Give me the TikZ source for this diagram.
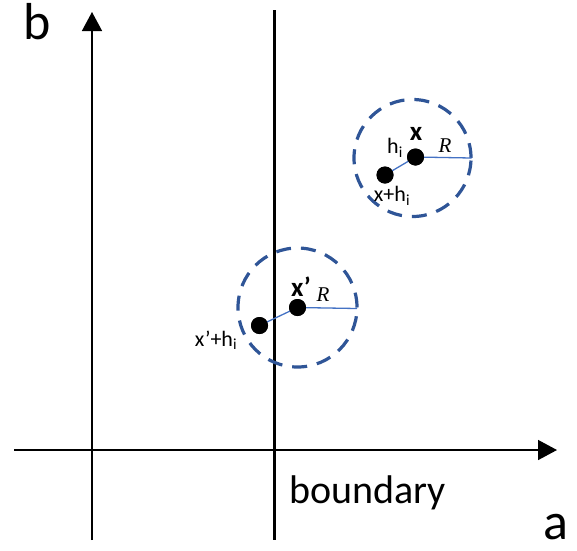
\documentclass[tikz,border=0pt]{standalone}
\usepackage{fontspec}
\setmainfont{Carlito}
\newfontfamily\rfont{Liberation Serif}
\usetikzlibrary{arrows.meta}
\definecolor{dashblue}{HTML}{2F5597}
\definecolor{lineblue}{HTML}{4472C4}
\tikzset{
  axis/.style={line width=1.5pt, -{Triangle[length=19pt,width=20pt]}},
  boundline/.style={line width=3pt},
  ring/.style={draw=dashblue, line width=3.2pt, dash pattern=on 15pt off 10pt, circle, inner sep=0pt},
  dot/.style={circle, fill=black, inner sep=0pt, minimum size=17pt},
  thinblue/.style={draw=lineblue, line width=1.3pt},
  big/.style={inner sep=0pt, anchor=base, font=\fontsize{52}{52}\selectfont},
  mid/.style={inner sep=0pt, anchor=base, font=\fontsize{40}{40}\selectfont},
  small/.style={inner sep=0pt, font=\fontsize{22}{22}\selectfont},
  bold/.style={inner sep=0pt, font=\fontsize{27}{27}\selectfont\bfseries},
  rlab/.style={inner sep=0pt, font=\fontsize{21}{21}\selectfont\rfont\itshape},
}
\begin{document}
\begin{tikzpicture}[x=1pt,y=-1pt]
\useasboundingbox (0,0) rectangle (577,550);
% axes
\coordinate (bbot) at (92,540);
\coordinate (btop) at (92,12);
\coordinate (aleft) at (14,450);
\coordinate (aright) at (557,450);
\coordinate (boundtop) at (274,10);
\coordinate (boundbot) at (274,540);
\draw[axis] (bbot) -- (btop);
\draw[axis] (aleft) -- (aright);
\node[big] (blab) at (37,39) {b};
\node[big] (alab) at (556,539) {a};
\node[mid] (boundlab) at (367.5,503) {boundary};
% circle 1
\node[ring, minimum size=117pt] (c1) at (412.5,158) {};
\coordinate (r1) at (471.5,158);
\node[dot] (x) at (415.5,157) {};
\node[dot] (xh) at (385,175) {};
\draw[thinblue] (x.center) -- (r1);
\draw[thinblue] (x.center) -- (xh.center);
\node[dot] at (x) {};
\node[dot] at (xh) {};
\node[bold] (xlab) at (416,134) {x};
\node[small] (hlab) at (395,148) {h\textsubscript{i}};
\node[small] (xhlab) at (392,196) {x+h\textsubscript{i}};
\node[rlab] (R1) at (445,146) {R};
% boundary
\draw[boundline] (boundtop) -- (boundbot);
% circle 2
\node[ring, minimum size=119pt] (c2) at (297.5,307.5) {};
\coordinate (r2) at (357,308.5);
\node[dot] (xp) at (297.5,307.5) {};
\node[dot] (xph) at (259.5,325.5) {};
\draw[thinblue] (xp.center) -- (r2);
\draw[thinblue] (xp.center) -- (xph.center);
\node[dot] at (xp) {};
\node[dot] at (xph) {};
\node[bold] (xplab) at (301,287) {x’};
\node[rlab] (R2) at (323,295) {R};
\node[small] (xphlab) at (216,340) {x’+h\textsubscript{i}};
\end{tikzpicture}
\end{document}
